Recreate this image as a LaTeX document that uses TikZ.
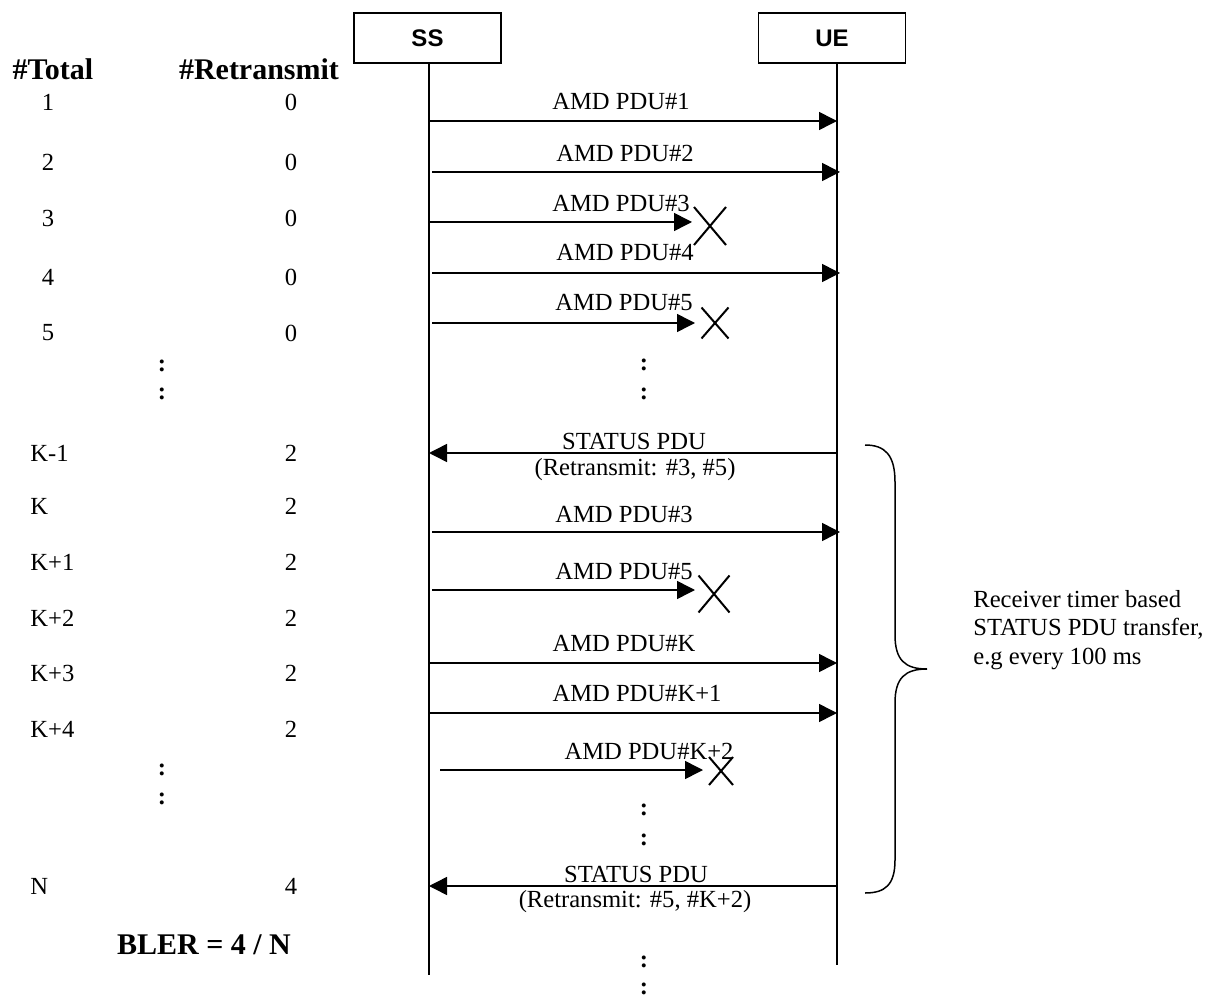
\documentclass[tikz,border=0pt]{standalone}
\usepackage{fontspec}
\setmainfont{Liberation Serif}
\newfontfamily\boxfont{Liberation Sans}
\usetikzlibrary{arrows.meta,shapes.misc}

\tikzset{
  actor/.style={draw, line width=0.8pt, minimum width=73.5pt, minimum height=25pt, inner sep=0pt,
    font=\boxfont\bfseries\fontsize{12}{14}\selectfont},
  life/.style={line width=0.75pt},
  msg/.style={line width=0.75pt, -{Triangle[length=9pt,width=9pt]}},
  lbl/.style={inner sep=0pt, font=\fontsize{12.3}{14.25}\selectfont},
  hdr/.style={inner sep=0pt, font=\bfseries\fontsize{15}{17}\selectfont},
  lost/.style={cross out, draw, line width=1pt, inner sep=0pt},
  dots/.style={inner sep=0pt, font=\bfseries\fontsize{12.3}{14}\selectfont},
}

\begin{document}
\begin{tikzpicture}[x=0.5pt, y=-0.5pt]
  \useasboundingbox (0,0) rectangle (1219,999);

  % entities and lifelines
  \node[actor] (ss) at (427.5,38) {SS};
  \node[actor] (ue) at (832,38) {UE};
  \coordinate (sstop) at (429,63);
  \coordinate (ssend) at (429,975);
  \coordinate (uetop) at (837,63);
  \coordinate (ueend) at (837,965);
  \draw[life] (sstop) -- (ssend);
  \draw[life] (uetop) -- (ueend);

  % delivered PDUs
  \foreach \n/\y/\sx/\ex/\lx/\ly/\t in {
      1/121/429/837/621/102/AMD PDU\#1,
      2/172/432/840/625/153/AMD PDU\#2,
      4/273/432/840/625/253/AMD PDU\#4,
      7/532/432/840/624/514/AMD PDU\#3,
      9/663/429/837/624/643/AMD PDU\#K,
      10/713/429/837/637/693/AMD PDU\#K+1} {
    \coordinate (s\n) at (\sx,\y);
    \coordinate (u\n) at (\ex,\y);
    \draw[msg] (s\n) -- (u\n);
    \node[lbl] (l\n) at (\lx,\ly) {\t};
  }

  % lost PDUs
  \foreach \n/\y/\sx/\ex/\xx/\xy/\w/\h/\lx/\ly/\t in {
      3/222/429/692/710/226/15/18/621/203/AMD PDU\#3,
      5/323/432/695/715/323/12.5/14.5/624/303/AMD PDU\#5,
      8/590/432/695/714/594/14.5/17.5/624/571/AMD PDU\#5,
      11/770/440/703/721/771/11/13/649/751/AMD PDU\#K+2} {
    \coordinate (s\n) at (\sx,\y);
    \coordinate (e\n) at (\ex,\y);
    \draw[msg] (s\n) -- (e\n);
    \node[lost, minimum width=\w pt, minimum height=\h pt] (x\n) at (\xx,\xy) {};
    \node[lbl] (l\n) at (\lx,\ly) {\t};
  }

  % status reports
  \coordinate (u6) at (837,453);
  \coordinate (s6) at (429,453);
  \draw[msg] (u6) -- (s6);
  \node[lbl, anchor=base] (l6) at (634,450) {STATUS PDU};
  \node[lbl, anchor=base] (l6b) at (635,475) {(Retransmit: \#3, \#5)};

  \coordinate (u12) at (837,886);
  \coordinate (s12) at (429,886);
  \draw[msg] (u12) -- (s12);
  \node[lbl, anchor=base] (l12) at (636,882) {STATUS PDU};
  \node[lbl, anchor=base] (l12b) at (635,907) {(Retransmit: \#5, \#K+2)};

  % continuation dots
  \foreach \n/\x/\y in {a/644/365, b/644/394, c/162/366, d/162/394, e/644/810, f/644/840,
      g/162/770, h/162/799, i/644/962, j/644/989}
    \node[dots] (d\n) at (\x,\y) {:};

  % counters
  \node[hdr] (tot) at (53,69) {\#Total};
  \node[hdr] (ret) at (259,69) {\#Retransmit};
  \foreach \n/\y in {1/102, 2/162, 3/218, 4/277, 5/333} {
    \node[lbl] (t\n) at (48,\y) {\n};
    \node[lbl] (r\n) at (291,\y) {0};
  }
  \foreach \n/\y/\t/\r in {a/453/K-1/2, b/506/K/2, c/562/K+1/2, d/618/K+2/2,
      e/673/K+3/2, f/729/K+4/2, g/886/N/4} {
    \node[lbl, anchor=west] (t\n) at (30,\y) {\t};
    \node[lbl] (r\n) at (291,\y) {\r};
  }
  \node[hdr] (bler) at (204,945) {BLER = 4 / N};

  % brace and note
  \draw[line width=0.75pt] (865,445) .. controls (885,445) and (895,455) .. (895,482)
    -- (895,635) .. controls (895,660) and (905,669) .. (927,669)
    .. controls (905,669) and (895,678) .. (895,703)
    -- (895,860) .. controls (895,885) and (885,893) .. (865,893);
  \node[lbl, anchor=west, align=left] (note) at (973,630)
    {Receiver timer based\\STATUS PDU transfer,\\e.g every 100 ms};
\end{tikzpicture}
\end{document}
